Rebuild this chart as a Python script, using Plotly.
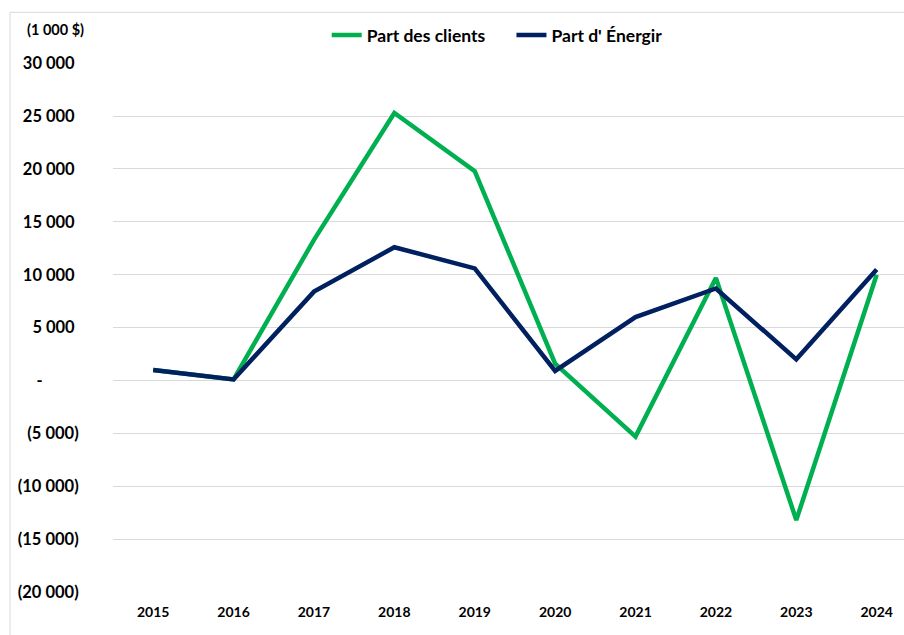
import plotly.graph_objects as go

years = ["2015", "2016", "2017", "2018", "2019", "2020", "2021", "2022", "2023", "2024"]
clients = [1000, 100, 13300, 25300, 19800, 1600, -5300, 9700, -13200, 10000]
energir = [1000, 100, 8400, 12600, 10600, 900, 6000, 8700, 2000, 10500]
ytick_vals = [-20000, -15000, -10000, -5000, 0, 5000, 10000, 15000, 20000, 25000, 30000]
ytick_text = ["(20 000)", "(15 000)", "(10 000)", "(5 000)", "-\u00a0\u00a0\u00a0\u00a0\u00a0\u00a0\u00a0\u00a0\u00a0",
              "5 000\u00a0", "10 000\u00a0", "15 000\u00a0", "20 000\u00a0", "25 000\u00a0", "30 000\u00a0"]

GREEN = "#00B050"
NAVY = "#002060"
FONT = "Lato"

fig = go.Figure()
fig.add_trace(go.Scatter(x=years, y=clients, mode="lines", name="Part des clients\u00a0\u00a0\u00a0\u00a0\u00a0",
                         line=dict(color=GREEN, width=4.5)))
fig.add_trace(go.Scatter(x=years, y=energir, mode="lines", name="Part d' Énergir",
                         line=dict(color=NAVY, width=4.5)))

W, H = 904, 635
L, T, B = 113, 62, 43
fig.update_layout(
    width=W, height=H,
    margin=dict(l=L, r=0, t=T, b=B),
    paper_bgcolor="white", plot_bgcolor="white",
    font=dict(family=FONT, color="#000000"),
    showlegend=True,
    legend=dict(orientation="h", xref="container", yref="container",
                x=0.55, xanchor="center", y=1 - 35 / H, yanchor="middle",
                font=dict(family=FONT, size=17.5, color="#000000", weight="bold"),
                itemwidth=30, tracegroupgap=0, bgcolor="rgba(0,0,0,0)"),
    xaxis=dict(type="category", range=[-0.5, 9.34], showgrid=False, zeroline=False,
               showline=False, ticks="outside", ticklen=7, tickcolor="rgba(0,0,0,0)",
               tickfont=dict(family=FONT, size=14, weight="bold", color="#000000")),
    yaxis=dict(range=[-20000, 30000], tickvals=ytick_vals, ticktext=ytick_text,
               showgrid=True, gridcolor="#D9D9D9", gridwidth=1.3, zeroline=False,
               showline=False, ticks="outside", ticklen=30, tickcolor="rgba(0,0,0,0)",
               tickfont=dict(family=FONT, size=16.5, weight="bold", color="#000000")),
    annotations=[dict(text="(1 000 $)", xref="paper", yref="paper",
                      x=(25 - L) / (W - L), y=1 + (T - 28) / (H - T - B),
                      xanchor="left", yanchor="middle", showarrow=False,
                      font=dict(family=FONT, size=14.5, weight="bold", color="#000000"))],
    shapes=[dict(type="rect", xref="paper", yref="paper",
                 x0=(10 - L) / (W - L), x1=(W + 5 - L) / (W - L),
                 y0=-(B + 5) / (H - T - B), y1=1 + (T - 11) / (H - T - B),
                 line=dict(color="#D9D9D9", width=1), fillcolor="rgba(0,0,0,0)", layer="below")],
)

fig.write_html("out.html", config={"displayModeBar": False},
               post_script="document.body.style.margin='0';document.body.style.overflow='hidden';")
